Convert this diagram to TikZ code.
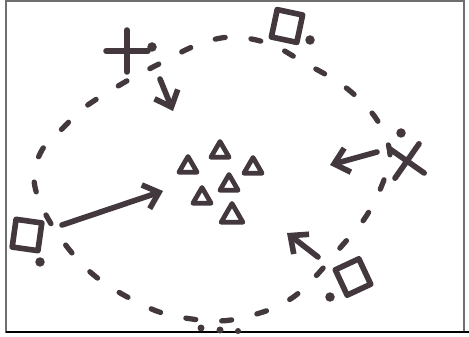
\documentclass[tikz,border=0pt]{standalone}
\usepackage{tikz}
\usetikzlibrary{positioning, arrows.meta, shapes.geometric, shapes.misc}
\definecolor{ink}{RGB}{66,56,62}
\definecolor{edge}{RGB}{110,110,110}

\begin{document}
\begin{tikzpicture}[x=0.02cm, y=-0.02cm,
  pen/.style={draw=ink, line width=3.2pt, line cap=round, line join=round},
  tri/.style={pen, line width=2.7pt, regular polygon, regular polygon sides=3,
              minimum size=0.42cm, inner sep=0pt},
  sq/.style={pen, fill=white, rectangle, minimum width=0.52cm,
             minimum height=0.56cm, inner sep=0pt},
  cross/.style={pen, cross out, minimum size=0.48cm, inner sep=0pt},
  dot/.style={circle, fill=ink, minimum size=0.19cm, inner sep=0pt},
  push/.style={pen, -{Straight Barb[length=2.8mm, width=5mm, line width=3.2pt]}},
]
  \useasboundingbox (0,0) rectangle (469,337);

  % frame of the sheet
  \draw[edge, line width=0.9pt] (6,333) -- (6,1) -- (464,1) -- (464,333);
  \draw[black, line width=1.6pt] (6,332) -- (469,332);

  % dashed ring, hand drawn so not a true ellipse
  \draw[pen, line width=3pt, dash pattern=on 0.2cm off 0.52cm]
    plot[smooth cycle, tension=0.6] coordinates {
      (34,180) (46,215) (72,253) (100,280) (137,302) (170,315) (220,321)
      (263,312) (292,298) (315,277) (340,248) (365,218) (382,185) (390,155)
      (380,125) (362,102) (338,82) (303,62) (270,44) (232,37) (197,45)
      (157,65) (125,82) (85,107) (63,128) (42,150)};

  % cluster in the middle
  \node[tri] (t1) at (188,167) {};
  \node[tri] (t2) at (220,152) {};
  \node[tri] (t3) at (253,168) {};
  \node[tri] (t4) at (229,185) {};
  \node[tri] (t5) at (202,198) {};
  \node[tri, minimum size=0.5cm] (t6) at (232,216) {};

  % things on the ring
  \node[cross, rotate=45] (crossTL) at (127,51) {};
  \node[dot] (dotTL) at (152,47) {};
  \node[sq, rotate=-12] (sqTop) at (287,26) {};
  \node[dot] (dotTop) at (310,40) {};
  \node[cross, rotate=10] (crossR) at (407,161) {};
  \node[dot] (dotR) at (401,133) {};
  \node[sq, rotate=-8] (sqL) at (27,235) {};
  \node[dot] (dotL) at (40,262) {};
  \node[sq, rotate=25] (sqBR) at (353,277) {};
  \node[dot] (dotBR) at (330,297) {};
  \node[dot, minimum size=0.14cm] (bitA) at (201,328) {};
  \node[dot, minimum size=0.14cm] (bitB) at (220,330) {};
  \node[dot, minimum size=0.12cm] (bitC) at (238,331) {};

  % pulls towards the cluster
  \coordinate (fromTL) at (160,79);
  \coordinate (toTL) at (173,111);
  \coordinate (fromR) at (377,152);
  \coordinate (toR) at (330,165);
  \coordinate (fromL) at (62,225);
  \coordinate (toL) at (163,191);
  \coordinate (fromBR) at (318,257);
  \coordinate (toBR) at (287,233);
  \draw[push] (fromTL) -- (toTL);
  \draw[push] (fromR) -- (toR);
  \draw[push] (fromL) -- (toL);
  \draw[push] (fromBR) -- (toBR);
\end{tikzpicture}
\end{document}
